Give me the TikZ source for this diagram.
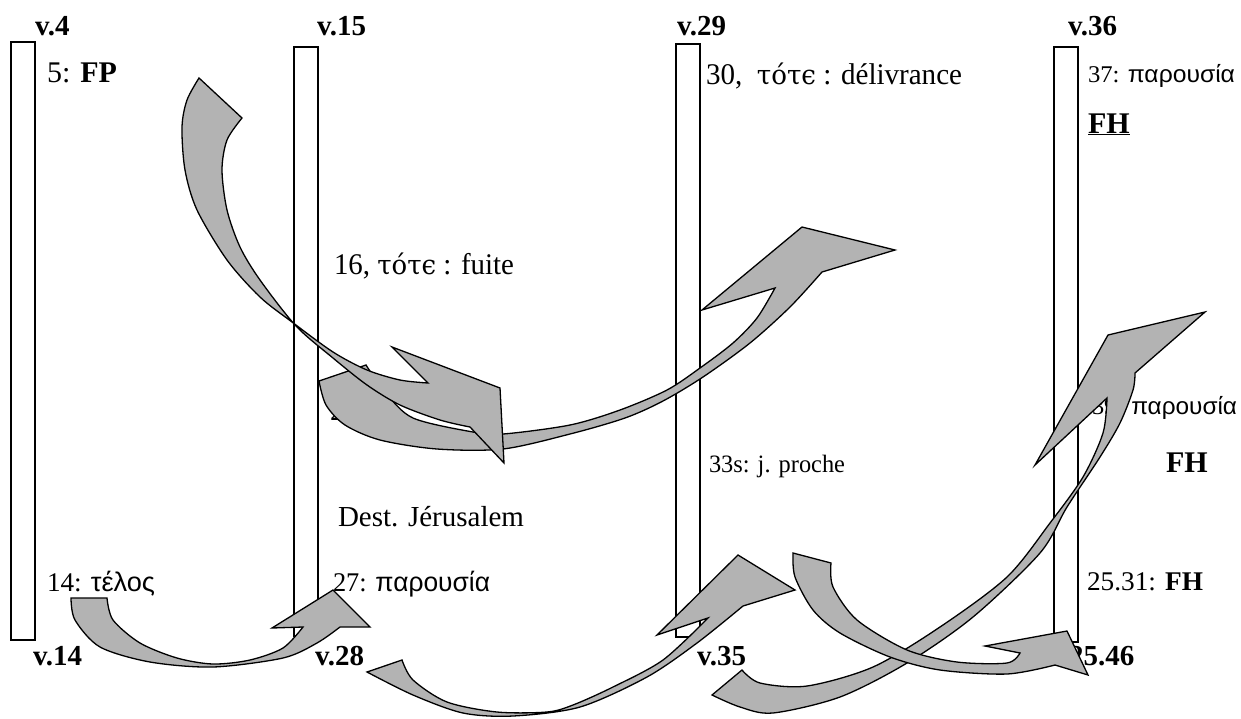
\documentclass[tikz,border=0pt]{standalone}
\usepackage{fontspec}
\usepackage{graphicx}
\setmainfont{Liberation Serif}
\newfontfamily\grk[Scale=0.9]{DejaVu Serif}
\newfontfamily\grks{Liberation Sans}
\definecolor{arrowgray}{RGB}{179,179,179}
% set a label to a given width, keeping its height
\newcommand{\wfit}[2]{\resizebox{#1pt}{\height}{#2}}
\tikzset{
  bar/.style={draw=black, fill=white, line width=1.4pt},
  blockarrow/.style={draw=black, fill=arrowgray, line width=1.3pt, line join=miter},
  lbl/.style={anchor=base west, inner sep=0pt, outer sep=0pt},
  vlab/.style={lbl, font=\bfseries\fontsize{29}{31}\selectfont},
  bigtxt/.style={lbl, font=\fontsize{30}{32}\selectfont},
  dsttxt/.style={lbl, font=\fontsize{29}{31}\selectfont},
  midtxt/.style={lbl, font=\fontsize{27}{29}\selectfont},
  smalltxt/.style={lbl, font=\fontsize{25}{27}\selectfont},
  grtxt/.style={lbl, font=\fontsize{24}{26}\selectfont},
}
\begin{document}
\begin{tikzpicture}[x=1pt, y=-1pt]
\fill[white] (0,0) rectangle (1241,718);
\useasboundingbox (0,0) rectangle (1241,718);

% the four columns
\draw[bar] (11,42) rectangle (35,640);
\draw[bar] (294,47) rectangle (318,636);
\draw[bar] (676,44) rectangle (700,637);
\draw[bar] (1054,47) rectangle (1078,642);

% verse labels above and below the columns
\node[vlab] (v4)  at (35,35)   {v.4};
\node[vlab] (v15) at (317,35)  {v.15};
\node[vlab] (v29) at (677,35)  {v.29};
\node[vlab] (v36) at (1068,35) {v.36};
\node[vlab] (v14) at (33,665)  {v.14};
\node[vlab] (v28) at (315,665) {v.28};
\node[vlab] (v35) at (697,665) {v.35};
\node[vlab] (v46) at (1069,665) {25.46};

% entries of each column
\node[bigtxt] (fp) at (47,82) {\wfit{70}{5: \textbf{FP}}};
\node[bigtxt] (deliv) at (706,84) {\wfit{256}{30,\ \ {\grk τότϵ} : délivrance}};
\node[grtxt] (par37) at (1088,82) {\wfit{147}{37: {\grks παρουσία}}};
\node[bigtxt] (fhA) at (1088,133) {\underline{\textbf{FH}}};
\node[bigtxt] (fuite) at (334,274) {\wfit{180}{16, {\grk τότϵ} : fuite}};
\node[bigtxt] (n2) at (330,420) {2};
\node[grtxt] (par39) at (1092,414) {\wfit{145}{39: {\grks παρουσία}}};
\node[bigtxt] (fhB) at (1166,472) {\textbf{FH}};
\node[smalltxt] (proche) at (709,472) {\wfit{136}{33s: j. proche}};
\node[dsttxt] (dest) at (338,526) {\wfit{186}{Dest. Jérusalem}};
\node[midtxt] (telos) at (47,591) {\wfit{108}{14: {\grks τέλος}}};
\node[midtxt] (par27) at (333,591) {\wfit{157}{27: {\grks παρουσία}}};
\node[midtxt] (fhC) at (1087,590) {\wfit{116}{25.31: \textbf{FH}}};

% curved block arrows
% from v.15 down and up to v.29
\draw[blockarrow] (366,365) -- (319,381)
  -- plot[smooth] coordinates {(319,381) (326,405) (345,425) (380,440) (437,449) (503,449) (570,434) (625,418) (663,401) (703,377) (750,343) (790,307) (822,272)}
  -- (895,250) -- (802,227) -- (702,310) -- (775,288)
  -- plot[smooth] coordinates {(775,288) (757,318) (733,343) (700,368) (667,390) (620,410) (570,425) (503,434) (473,432) (413,418) (385,392) (366,365)}
  -- cycle;
% from 5: FP down across v.15
\draw[blockarrow] (242,118) -- (199,78)
  -- plot[smooth] coordinates {(199,78) (187,100) (182,127) (185,170) (197,210) (227,260) (260,297) (292,322) (333,352) (367,370) (400,380) (428,383)}
  -- (392,347) -- (500,388) -- (504,463) -- (470,427)
  -- plot[smooth] coordinates {(470,427) (440,420) (400,405) (367,385) (333,358) (296,326) (260,280) (240,247) (227,210) (222,170) (227,140) (242,118)}
  -- cycle;
% from 14 to v.28
\draw[blockarrow] (107,598) -- (71,598)
  -- plot[smooth] coordinates {(71,598) (75,620) (100,647) (150,662) (213,667) (283,658) (317,643) (340,627)}
  -- (370,627) -- (333,590) -- (272,628) -- (303,627)
  -- plot[smooth] coordinates {(303,627) (283,648) (250,660) (213,664) (177,658) (140,643) (113,620) (107,598)}
  -- cycle;
% from v.28 to v.35
\draw[blockarrow] (402,660) -- (367,672)
  -- plot[smooth] coordinates {(367,672) (413,695) (463,713) (513,716) (580,707) (647,677) (697,643) (743,606)}
  -- (795,590) -- (738,555) -- (657,635) -- (708,618)
  -- plot[smooth] coordinates {(708,618) (663,660) (613,687) (573,705) (547,712) (497,712) (447,702) (413,680) (402,660)}
  -- cycle;
% from below v.35 up to the right
\draw[blockarrow] (742,670) -- (712,695)
  -- plot[smooth] coordinates {(712,695) (740,707) (773,713) (840,697) (907,663) (973,617) (1040,553) (1067,507) (1100,457) (1120,423) (1133,390) (1135,373)}
  -- (1205,312) -- (1108,335) -- (1035,465) -- (1107,398)
  -- plot[smooth] coordinates {(1107,398) (1103,433) (1083,477) (1050,523) (1007,577) (940,627) (873,667) (807,686) (760,683) (742,670)}
  -- cycle;
% from 33s to 25.46
\draw[blockarrow] (831,563) -- (793,553)
  -- plot[smooth] coordinates {(793,553) (795,577) (813,610) (840,633) (890,657) (940,670) (1007,674) (1055,665)}
  -- (1088,675) -- (1067,631) -- (985,646) -- (1020,653)
  -- plot[smooth] coordinates {(1020,653) (1007,663) (957,662) (907,650) (857,620) (833,587) (831,563)}
  -- cycle;
\end{tikzpicture}
\end{document}
